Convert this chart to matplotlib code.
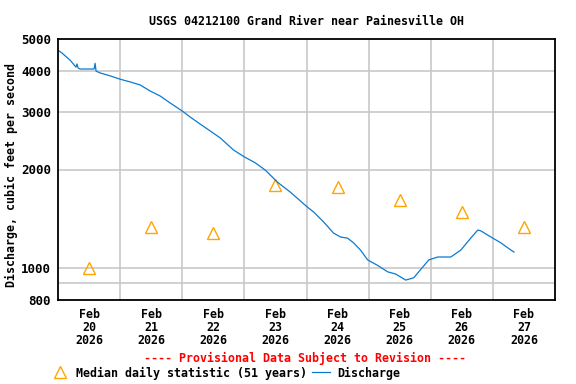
import numpy as np
import matplotlib.pyplot as plt
from matplotlib.ticker import FixedLocator, NullFormatter

# days since Feb 20 2026 00:00
flow_days = [0.0, 0.065, 0.194, 0.29, 0.306, 0.323, 0.355, 0.581, 0.597, 0.613,
             0.677, 0.839, 1.0, 1.161, 1.323, 1.484, 1.645, 1.806, 2.0, 2.129,
             2.29, 2.452, 2.613, 2.823, 3.0, 3.177, 3.339, 3.532, 3.742, 4.016,
             4.113, 4.274, 4.435, 4.548, 4.661, 4.758, 4.871, 4.984, 5.145, 5.306,
             5.435, 5.597, 5.726, 5.871, 5.968, 6.113, 6.323, 6.484, 6.645, 6.758,
             6.806, 6.968, 7.129, 7.29, 7.339]
flow_cfs = [4620, 4530, 4310, 4105, 4195, 4080, 4050, 4050, 4215, 3990,
            3940, 3860, 3770, 3700, 3620, 3470, 3350, 3190, 3015, 2890,
            2750, 2620, 2495, 2295, 2185, 2095, 1990, 1830, 1705, 1535,
            1485, 1385, 1280, 1245, 1235, 1195, 1135, 1060, 1020, 975,
            960, 920, 935, 1008, 1060, 1082, 1082, 1136, 1236, 1308,
            1300, 1245, 1195, 1136, 1120]

median_days = [0.5, 1.5, 2.5, 3.5, 4.5, 5.5, 6.5, 7.5]
median_cfs = [1000, 1340, 1280, 1790, 1770, 1620, 1480, 1340]

day_labels = ["Feb\n%d\n2026" % d for d in range(20, 28)]
y_major = [800, 1000, 2000, 3000, 4000, 5000]
y_grid = [900, 1000, 2000, 3000, 4000]

plt.rcParams['font.family'] = 'DejaVu Sans Mono'
plt.rcParams['font.weight'] = 'bold'
fs = 8.4

fig = plt.figure(figsize=(5.76, 3.84), dpi=100)
ax = fig.add_axes([58/576, 1-300/384, 497/576, 261/384])

ax.set_yscale('log')
ax.set_ylim(800, 5000)
ax.set_xlim(0, 8)

# grid
for d in range(1, 8):
    ax.axvline(d, color='#c8c8c8', lw=1.2, zorder=0)
for v in y_grid:
    ax.axhline(v, color='#c8c8c8', lw=1.2, zorder=0)

med, = ax.plot(median_days, median_cfs, linestyle='none', marker='^', ms=8.5,
               mfc='none', mec='#ffa500', mew=1.0, label='Median daily statistic (51 years)')
q, = ax.plot(flow_days, flow_cfs, color='#0a7ad0', lw=0.9, label='Discharge')

ax.yaxis.set_major_locator(FixedLocator(y_major))
ax.yaxis.set_minor_formatter(NullFormatter())
ax.yaxis.set_minor_locator(FixedLocator([]))
ax.set_yticklabels([str(v) for v in y_major], fontsize=9, fontweight='bold')
ax.set_xticks(median_days)
ax.set_xticklabels(day_labels, fontsize=fs, fontweight='bold', linespacing=1.0)
ax.tick_params(axis='both', length=0)
ax.tick_params(axis='x', pad=6)
ax.tick_params(axis='y', pad=5)

for s in ax.spines.values():
    s.set_linewidth(1.3)

ax.set_ylabel('Discharge, cubic feet per second', fontsize=fs, fontweight='bold')
ax.yaxis.set_label_coords(-40/497, 0.48)
ax.set_title('USGS 04212100 Grand River near Painesville OH', fontsize=fs,
             fontweight='bold', pad=10)

fig.text(305/576, 1-358/384, '---- Provisional Data Subject to Revision ----',
         color='red', fontsize=fs, fontweight='bold', ha='center', va='center')

fig.legend(handles=[med, q], loc='center left', bbox_to_anchor=(51/576, 1-373/384),
           ncol=2, frameon=False, fontsize=fs, handlelength=1.5,
           handletextpad=0.6, columnspacing=0.5, borderpad=0, borderaxespad=0,
           prop={'weight': 'bold', 'size': fs})

fig.savefig('out.png', dpi=100)
